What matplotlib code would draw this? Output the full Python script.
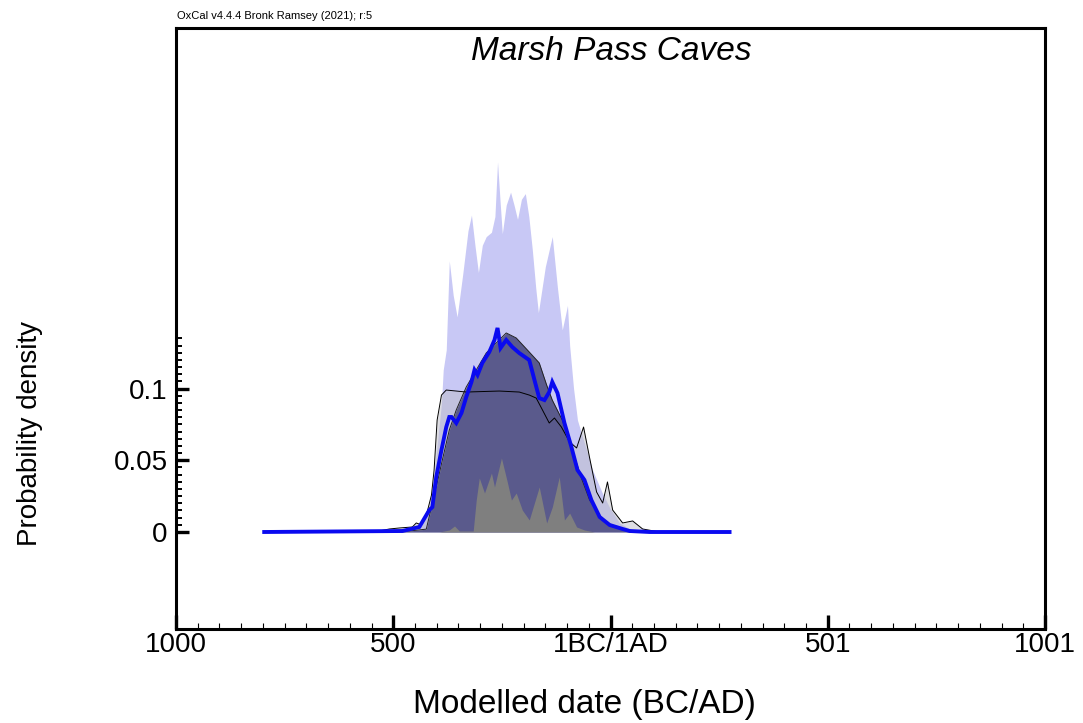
import matplotlib.pyplot as plt
from matplotlib.ticker import MultipleLocator, FixedLocator

plt.rcParams['font.family'] = ['Liberation Sans', 'DejaVu Sans']

# Light lavender distribution (spiky)
lav_years = [-520, -480, -440, -420, -408, -405, -389, -385, -378, -371, -362, -353,
             -340, -328, -320, -312, -304, -295, -286, -274, -266, -260, -254, -249,
             -240, -230, -222, -214, -205, -196, -188, -180, -172, -166, -150, -134,
             -122, -111, -99, -94, -85, -76, -60, -41, -20, -2, 21, 45, 67]
lav_dens = [0, 0.001, 0.004, 0.015, 0.035, 0.043, 0.09, 0.113, 0.127, 0.189, 0.165, 0.150,
            0.18, 0.21, 0.221, 0.2, 0.181, 0.2, 0.206, 0.209, 0.22, 0.258, 0.23, 0.208,
            0.228, 0.237, 0.228, 0.218, 0.232, 0.236, 0.22, 0.197, 0.17, 0.153, 0.185, 0.206,
            0.17, 0.141, 0.158, 0.13, 0.1, 0.078, 0.062, 0.043, 0.028, 0.017, 0.0063, 0.002, 0]

# Plateau distribution with thin outline
pla_years = [-544, -509, -486, -456, -447, -435, -422, -412, -406, -399, -389, -378,
             -332, -256, -210, -187, -171, -159, -141, -129, -113, -94, -78, -62,
             -48, -32, -18, -7, 5, 28, 51, 74, 113]
pla_dens = [0, 0.0021, 0.0028, 0.0035, 0.0063, 0.0049, 0.0139, 0.0258, 0.0432, 0.0781, 0.0955, 0.099,
            0.0976, 0.0983, 0.0976, 0.0955, 0.0934, 0.0865, 0.076, 0.0795, 0.0732, 0.0628, 0.0586, 0.0732,
            0.0516, 0.0279, 0.0202, 0.0349, 0.0153, 0.0063, 0.0077, 0.0021, 0]

# Dark summed distribution
dark_years = [-532, -463, -424, -401, -387, -371, -355, -332, -313, -286, -256, -240,
              -217, -187, -164, -147, -134, -111, -88, -67, -48, -18, 14, 67]
dark_dens = [0, 0.0007, 0.002, 0.0314, 0.0502, 0.0711, 0.0851, 0.1011, 0.1109, 0.1248, 0.1339, 0.1388,
             0.1353, 0.1255, 0.1179, 0.1025, 0.092, 0.0781, 0.0572, 0.0377, 0.0223, 0.0084, 0.0028, 0]

# Grey spikes
grey_years = [-394, -371, -359, -348, -316, -309, -302, -290, -274, -267, -251, -237,
              -228, -217, -203, -187, -164, -147, -134, -118, -106, -94, -78, -60, -37]
grey_dens = [0, 0.0014, 0.0042, 0.0007, 0.0007, 0.0223, 0.0377, 0.0272, 0.0411, 0.0314, 0.0516, 0.0342,
             0.0223, 0.0272, 0.0153, 0.0084, 0.0314, 0.0063, 0.0174, 0.0384, 0.0084, 0.0132, 0.0035, 0.0014, 0]

# KDE model (blue line)
kde_years = [-797, -479, -440, -417, -410, -401, -389, -378, -371, -366, -355, -343,
             -332, -320, -313, -306, -295, -279, -267, -260, -253, -240, -226, -210,
             -187, -175, -164, -152, -141, -134, -122, -106, -90, -76, -60, -44,
             -25, -2, 28, 44, 90, 274]
kde_dens = [0, 0.0007, 0.0035, 0.0153, 0.0174, 0.0384, 0.0572, 0.0732, 0.0802, 0.0802, 0.076, 0.083,
            0.0941, 0.1046, 0.113, 0.1095, 0.1179, 0.1255, 0.1339, 0.1423, 0.1283, 0.1339, 0.129, 0.1248,
            0.1199, 0.106, 0.0934, 0.092, 0.0976, 0.1046, 0.0969, 0.076, 0.0593, 0.0432, 0.0363, 0.0223,
            0.0105, 0.0049, 0.0021, 0.0007, 0, 0]

x_ticks = [-1000, -500, 0, 500, 1000]
x_labels = ['1000', '500', '1BC/1AD', '501', '1001']
y_ticks = [0, 0.05, 0.1]
y_labels = ['0', '0.05', '0.1']

W, H = 1083, 723
fig = plt.figure(figsize=(W / 100, H / 100), dpi=100)
ax = fig.add_axes([176 / W, 1 - 629 / H, (1045 - 176) / W, (629 - 28) / H])

ax.fill_between(lav_years, lav_dens, color='#c8c8f5', lw=0, zorder=1)
ax.fill_between(pla_years, pla_dens, color='#bebec8', alpha=0.5, lw=0, zorder=2)
ax.fill_between(dark_years, dark_dens, color='#5a5a8c', lw=0, zorder=3)
ax.fill_between(grey_years, grey_dens, color='#7f7f7f', lw=0, zorder=4)
ax.plot(dark_years, dark_dens, color='#222222', lw=0.7, zorder=5)
ax.plot(pla_years, pla_dens, color='black', lw=0.7, zorder=6)
ax.plot(kde_years, kde_dens, color='#0a0af0', lw=2.8, zorder=7, solid_joinstyle='miter')

ax.set_xlim(-1000, 1000)
ax.set_ylim(-(629 - 532) / 1434, (532 - 28) / 1434)

ax.xaxis.set_major_locator(FixedLocator(x_ticks))
ax.set_xticklabels(x_labels)
ax.xaxis.set_minor_locator(MultipleLocator(50))
ax.yaxis.set_major_locator(FixedLocator(y_ticks))
ax.set_yticklabels(y_labels)
ax.yaxis.set_minor_locator(FixedLocator([i * 0.005 for i in range(28)]))

ax.tick_params(axis='x', which='major', direction='in', length=10, width=2.4, labelsize=20, pad=2)
ax.tick_params(axis='x', which='minor', direction='in', length=4.5, width=0.8)
ax.tick_params(axis='y', which='major', direction='in', length=9, width=2.4, labelsize=20, pad=6)
ax.tick_params(axis='y', which='minor', direction='in', length=4, width=1.4)

for s in ax.spines.values():
    s.set_linewidth(2.2)

fig.text(611 / W, 1 - 52 / H, 'Marsh Pass Caves', style='italic', fontsize=24,
         ha='center', va='center')
fig.text(177 / W, 1 - 16 / H, 'OxCal v4.4.4 Bronk Ramsey (2021); r:5', fontsize=8,
         ha='left', va='center')
fig.text(30 / W, 1 - 433 / H, 'Probability density', rotation=90, fontsize=20,
         ha='center', va='center')
fig.text(584 / W, 1 - 705 / H, 'Modelled date (BC/AD)', fontsize=24,
         ha='center', va='center')

fig.savefig('out.png', dpi=100)
